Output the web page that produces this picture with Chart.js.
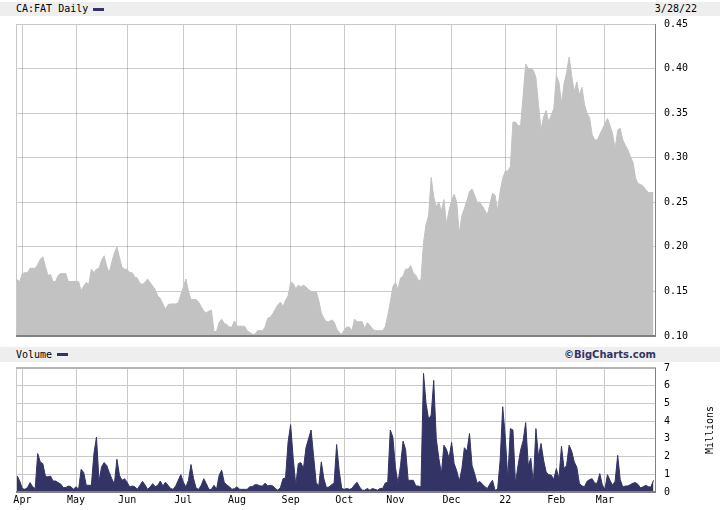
<!DOCTYPE html>
<html>
<head>
<meta charset="utf-8">
<script src="https://cdn.jsdelivr.net/npm/chart.js@4/dist/chart.umd.min.js"></script>
<style>
  html, body { margin:0; padding:0; background:#fff; }
  body { width:720px; height:510px; position:relative; overflow:hidden; font-family:'DejaVu Sans Mono', monospace; }
  .band { position:absolute; left:0; width:720px; background:#eeeeee; }
  .txt { position:absolute; font-size:10px; line-height:14px; color:#000; white-space:nowrap; }
  .dash { position:absolute; width:11px; height:3px; background:#333366; }
  canvas { position:absolute; left:0; }
</style>
</head>
<body>
<div class="band" style="top:2px;height:14px;"></div>
<div class="txt" style="left:16px;top:2px;">CA:FAT Daily</div>
<div class="dash" style="left:93px;top:8px;"></div>
<div class="txt" style="right:23px;top:2px;">3/28/22</div>

<div class="band" style="top:347px;height:15px;"></div>
<div class="txt" style="left:16px;top:347px;line-height:15px;">Volume</div>
<div class="dash" style="left:57px;top:353px;"></div>
<div class="txt" style="right:64px;top:347px;line-height:15px;font-family:'DejaVu Sans',sans-serif;font-weight:bold;font-size:10px;color:#333366;">©BigCharts.com</div>

<canvas id="price" width="720" height="345" style="top:0;"></canvas>
<canvas id="vol" width="720" height="148" style="top:362px;"></canvas>

<script>
// ---- data (daily, 3/29/21 .. 3/28/22, trading-day index) ----
const monthLabels = ['Apr','May','Jun','Jul','Aug','Sep','Oct','Nov','Dec','22','Feb','Mar'];
const monthIdx = [3,24,44,66,87,108,129,149,171,192,212,231];
const priceTicks = [0.10,0.15,0.20,0.25,0.30,0.35,0.40,0.45];
const volTicks = [0,1,2,3,4,5,6,7];

const price = [
0.165,0.163,0.161,0.170,0.171,0.171,0.176,0.176,0.176,0.180,
0.186,0.189,0.178,0.168,0.169,0.161,0.161,0.168,0.170,0.170,
0.170,0.161,0.161,0.161,0.161,0.161,0.151,0.156,0.160,0.158,
0.175,0.171,0.175,0.176,0.185,0.190,0.178,0.171,0.183,0.193,
0.200,0.188,0.177,0.175,0.175,0.171,0.171,0.166,0.165,0.159,
0.158,0.160,0.164,0.160,0.156,0.152,0.145,0.142,0.136,0.130,
0.135,0.136,0.136,0.136,0.137,0.146,0.155,0.164,0.150,0.141,
0.141,0.141,0.138,0.133,0.128,0.126,0.128,0.129,0.105,0.105,
0.115,0.119,0.114,0.113,0.110,0.110,0.117,0.111,0.111,0.111,
0.111,0.106,0.104,0.102,0.102,0.106,0.106,0.106,0.110,0.120,
0.121,0.125,0.130,0.135,0.138,0.133,0.140,0.145,0.160,0.159,
0.153,0.157,0.155,0.157,0.155,0.152,0.150,0.150,0.150,0.140,
0.126,0.120,0.116,0.116,0.118,0.116,0.108,0.104,0.102,0.107,
0.110,0.110,0.106,0.119,0.116,0.116,0.116,0.108,0.115,0.112,
0.108,0.106,0.106,0.106,0.106,0.110,0.123,0.138,0.155,0.160,
0.152,0.165,0.167,0.175,0.175,0.179,0.171,0.168,0.162,0.163,
0.205,0.225,0.235,0.278,0.256,0.245,0.250,0.240,0.253,0.225,
0.241,0.252,0.259,0.250,0.215,0.235,0.243,0.252,0.262,0.265,
0.258,0.250,0.250,0.246,0.241,0.236,0.248,0.260,0.258,0.241,
0.262,0.277,0.285,0.285,0.290,0.340,0.340,0.336,0.336,0.370,
0.405,0.400,0.400,0.398,0.390,0.360,0.331,0.346,0.353,0.340,
0.348,0.355,0.392,0.385,0.361,0.383,0.395,0.413,0.392,0.374,
0.385,0.370,0.379,0.360,0.350,0.345,0.326,0.320,0.320,0.326,
0.332,0.338,0.344,0.336,0.327,0.310,0.331,0.333,0.320,0.314,
0.309,0.301,0.295,0.277,0.271,0.270,0.268,0.264,0.261,0.261,
0.261
];

const volume = [
0.47,0.90,0.60,0.19,0.15,0.25,0.53,0.30,0.19,2.17,
1.70,1.60,0.90,0.85,0.90,0.62,0.62,0.53,0.45,0.25,
0.25,0.34,0.30,0.15,0.30,0.15,1.28,1.10,0.38,0.38,
0.38,2.17,3.10,0.60,1.42,1.66,1.50,1.10,0.75,0.45,
1.85,0.94,0.66,0.75,0.55,0.28,0.34,0.30,0.15,0.38,
0.60,0.40,0.15,0.28,0.47,0.30,0.38,0.62,0.34,0.55,
0.38,0.20,0.15,0.34,0.66,0.98,0.55,0.28,0.66,1.55,
0.75,0.22,0.15,0.38,0.75,0.47,0.15,0.15,0.38,0.15,
0.94,1.23,0.55,0.40,0.30,0.15,0.19,0.30,0.15,0.15,
0.15,0.15,0.30,0.30,0.41,0.41,0.34,0.34,0.50,0.34,
0.38,0.34,0.20,0.10,0.25,0.75,0.80,2.83,3.80,1.90,
0.40,1.60,1.66,1.32,2.50,3.00,3.50,2.00,0.53,0.34,
1.70,0.75,0.25,0.28,0.41,0.50,2.68,1.20,0.20,0.15,
0.20,0.15,0.20,0.41,0.55,0.28,0.10,0.10,0.20,0.10,
0.20,0.15,0.10,0.20,0.20,0.50,0.57,3.50,3.10,1.40,
0.50,1.50,2.87,2.40,0.66,0.66,0.66,0.34,0.34,0.28,
6.70,5.00,4.10,4.34,6.30,3.00,1.90,1.04,2.64,2.40,
1.90,2.80,1.60,1.20,0.60,1.30,2.50,2.30,3.30,1.50,
1.04,0.50,0.60,0.45,0.30,0.20,0.45,0.66,0.10,0.15,
1.80,4.81,3.10,0.75,3.58,3.50,0.50,1.50,2.36,2.90,
3.92,1.50,1.90,0.47,3.58,2.00,2.74,1.80,1.13,0.98,
0.95,0.72,1.32,0.75,2.58,1.32,1.50,2.64,2.30,1.70,
1.40,0.50,0.34,0.30,0.60,0.70,0.75,0.50,0.50,1.04,
0.40,0.15,0.98,0.66,0.38,0.60,2.07,0.70,0.28,0.34,
0.34,0.42,0.50,0.53,0.42,0.23,0.30,0.38,0.30,0.28,
0.66
];

// ---- chart setup ----
const tickFont = { family: "'DejaVu Sans Mono', monospace", size: 10 };
const X_MIN = 0.5, X_MAX = 251;

function noOverflow(s) {
  s.paddingTop = 0; s.paddingBottom = 0; s.paddingLeft = 0; s.paddingRight = 0;
}

function framePlugin(opts) {
  return {
    id: 'frame_' + opts.id,
    afterDraw(chart) {
      const { ctx, chartArea: a } = chart;
      ctx.save();
      ctx.lineWidth = 1;
      ctx.strokeStyle = '#c8c8c8';
      ctx.beginPath();
      ctx.moveTo(a.left + 0.5, a.bottom); ctx.lineTo(a.left + 0.5, a.top + 0.5);
      ctx.lineTo(a.right, a.top + 0.5);
      ctx.stroke();
      if (opts.topDark) {
        ctx.strokeStyle = '#b4b4b4'; ctx.lineWidth = 2;
        ctx.beginPath(); ctx.moveTo(a.left, a.top); ctx.lineTo(a.right, a.top); ctx.stroke();
      }
      ctx.strokeStyle = '#808080';
      ctx.lineWidth = 1;
      ctx.beginPath();
      ctx.moveTo(a.right - 0.5, a.top); ctx.lineTo(a.right - 0.5, a.bottom);
      ctx.stroke();
      ctx.lineWidth = 2;
      ctx.beginPath();
      ctx.moveTo(a.left, a.bottom); ctx.lineTo(a.right, a.bottom);
      ctx.stroke();
      if (opts.title) {
        ctx.fillStyle = '#000';
        ctx.font = "10px 'DejaVu Sans Mono', monospace";
        ctx.textAlign = 'center';
        ctx.textBaseline = 'middle';
        ctx.translate(710.5, (a.top + a.bottom) / 2);
        ctx.rotate(-Math.PI / 2);
        ctx.fillText(opts.title, 0, 0);
      }
      ctx.restore();
    }
  };
}

new Chart(document.getElementById('price'), {
  type: 'line',
  data: {
    datasets: [{
      data: price.map((v, i) => ({ x: i, y: v })),
      borderColor: '#c2c2c2',
      backgroundColor: '#c2c2c2',
      borderWidth: 1,
      pointRadius: 0,
      fill: 'start',
      tension: 0
    }]
  },
  options: {
    responsive: false,
    animation: false,
    devicePixelRatio: 1,
    layout: { padding: { top: 24, left: 16, right: 0, bottom: 9 } },
    plugins: { legend: { display: false }, tooltip: { enabled: false } },
    scales: {
      x: {
        type: 'linear', min: X_MIN, max: X_MAX,
        afterBuildTicks: s => { s.ticks = monthIdx.map(v => ({ value: v })); },
        afterFit: s => { s.height = 0; noOverflow(s); },
        ticks: { display: false },
        grid: { color: 'rgba(70,70,70,0.28)', drawTicks: false, tickLength: 0 },
        border: { display: false },
        z: 1
      },
      y: {
        position: 'right', min: 0.10, max: 0.45,
        afterBuildTicks: s => { s.ticks = priceTicks.map(v => ({ value: v })); },
        afterFit: s => { s.width = 64; noOverflow(s); },
        ticks: { callback: v => Number(v).toFixed(2), padding: 8, font: tickFont, color: '#000' },
        grid: { color: 'rgba(70,70,70,0.28)', drawTicks: false, tickLength: 0 },
        border: { display: false },
        z: 1
      }
    }
  },
  plugins: [framePlugin({ id: 'p' })]
});

new Chart(document.getElementById('vol'), {
  type: 'line',
  data: {
    datasets: [{
      data: volume.map((v, i) => ({ x: i, y: v })),
      borderColor: '#333366',
      backgroundColor: '#333366',
      borderWidth: 1,
      pointRadius: 0,
      fill: 'origin',
      tension: 0
    }]
  },
  options: {
    responsive: false,
    animation: false,
    devicePixelRatio: 1,
    layout: { padding: { top: 6, left: 16, right: 0, bottom: 4 } },
    plugins: { legend: { display: false }, tooltip: { enabled: false } },
    scales: {
      x: {
        type: 'linear', min: X_MIN, max: X_MAX,
        afterBuildTicks: s => { s.ticks = monthIdx.map(v => ({ value: v })); },
        afterFit: s => { s.height = 14; noOverflow(s); },
        ticks: {
          autoSkip: false, maxRotation: 0, padding: 2, font: tickFont, color: '#000',
          callback: v => { const k = monthIdx.indexOf(v); return k >= 0 ? monthLabels[k] : ''; }
        },
        grid: { color: '#c8c8c8', drawTicks: false, tickLength: 0 },
        border: { display: false }
      },
      y: {
        position: 'right', min: 0, max: 7,
        afterBuildTicks: s => { s.ticks = volTicks.map(v => ({ value: v })); },
        afterFit: s => { s.width = 64; noOverflow(s); },
        ticks: { padding: 8, font: tickFont, color: '#000' },
        grid: { color: '#c8c8c8', drawTicks: false, tickLength: 0 },
        border: { display: false }
      }
    }
  },
  plugins: [framePlugin({ id: 'v', topDark: true, title: 'Millions' })]
});
</script>
</body>
</html>
